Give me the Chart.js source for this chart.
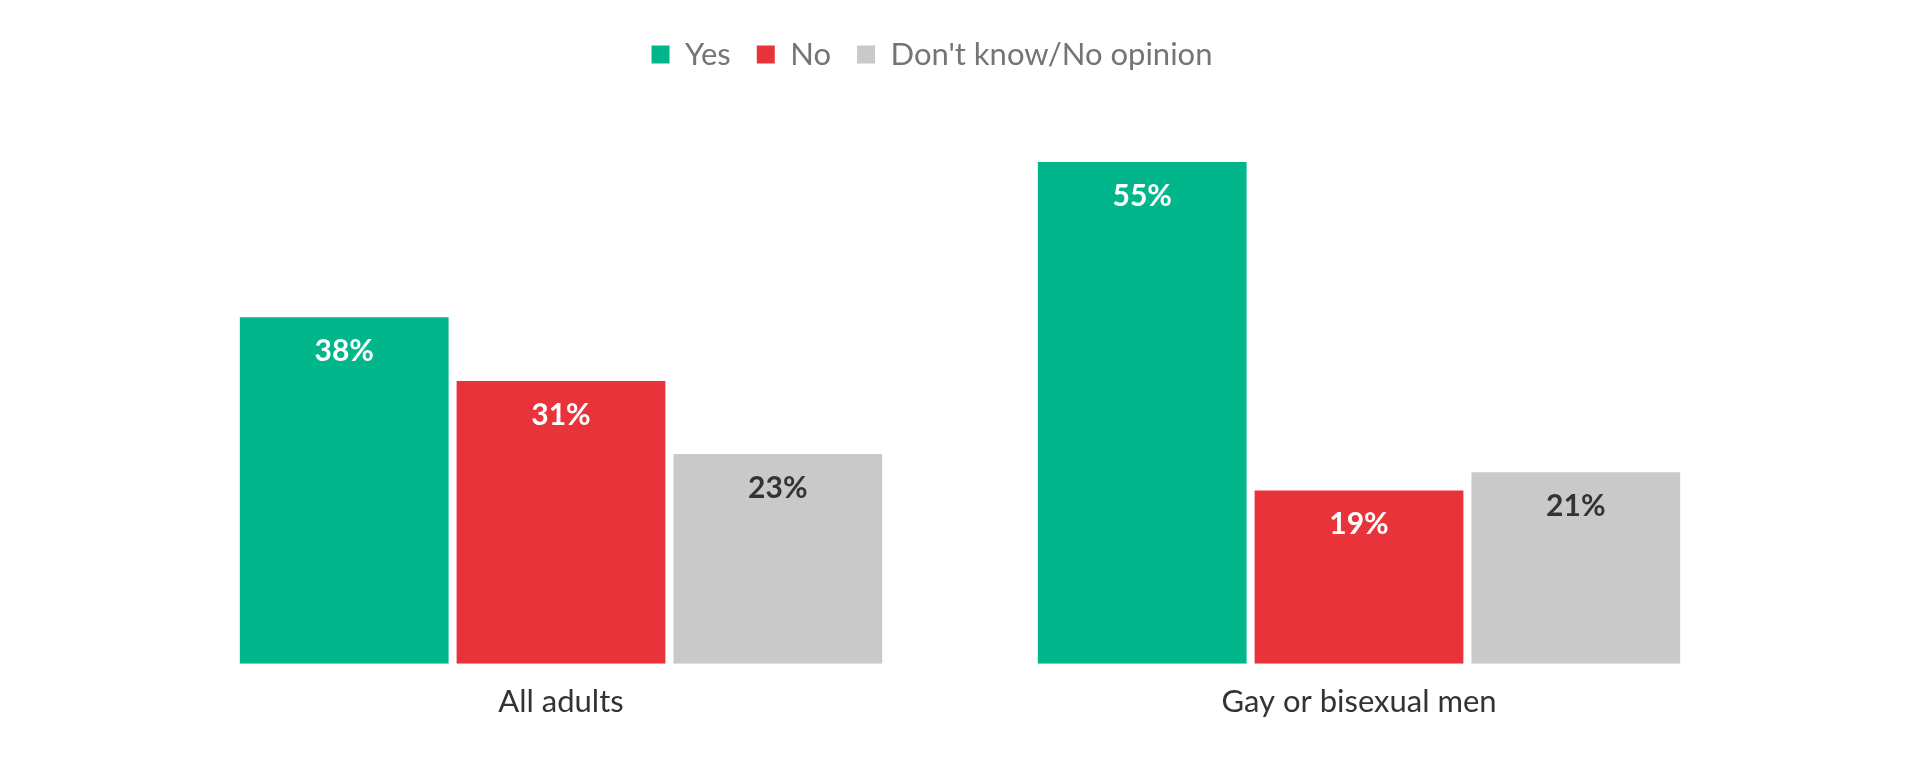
<!DOCTYPE html>
<html lang="en">
<head>
    <meta charset="UTF-8">
    <title>Yes / No / Don't know</title>
    <script src="https://cdn.jsdelivr.net/npm/chart.js"></script>
    <style>
        body {
            margin: 0;
            padding: 0;
            background-color: #fff;
        }

        .wrap {
            width: 1920px;
            height: 768px;
        }
    </style>
</head>
<body>
    <div class="wrap">
        <canvas id="chart" width="1920" height="768"></canvas>
    </div>

    <script>
        const categories = ['All adults', 'Gay or bisexual men'];
        const seriesNames = ['Yes', 'No', "Don't know/No opinion"];
        const yesValues = [38, 55];
        const noValues = [31, 19];
        const dontKnowValues = [23, 21];

        const colors = ['#00b68a', '#e9333a', '#c9c9c9'];
        const labelColors = ['#ffffff', '#ffffff', '#333333'];

        // draws the % value inside the top of each bar
        const valueLabels = {
            id: 'valueLabels',
            afterDatasetsDraw(chart) {
                const ctx = chart.ctx;
                ctx.save();
                ctx.font = 'bold 30px Lato';
                ctx.textAlign = 'center';
                ctx.textBaseline = 'middle';
                chart.data.datasets.forEach((ds, i) => {
                    const meta = chart.getDatasetMeta(i);
                    meta.data.forEach((bar, j) => {
                        ctx.fillStyle = labelColors[i];
                        ctx.fillText(ds.data[j] + '%', bar.x, bar.y + 34);
                    });
                });
                ctx.restore();
            }
        };

        // the legend in the original sits a bit left of centre
        const legendShift = {
            id: 'legendShift',
            afterLayout(chart) {
                chart.legend.left -= 28;
                chart.legend.right -= 28;
            }
        };

        const ctx = document.getElementById('chart').getContext('2d');
        new Chart(ctx, {
            type: 'bar',
            data: {
                labels: categories,
                datasets: [
                    { label: seriesNames[0], data: yesValues, backgroundColor: colors[0] },
                    { label: seriesNames[1], data: noValues, backgroundColor: colors[1] },
                    { label: seriesNames[2], data: dontKnowValues, backgroundColor: colors[2] }
                ]
            },
            options: {
                responsive: false,
                animation: false,
                devicePixelRatio: 1,
                categoryPercentage: 0.815,
                barPercentage: 0.963,
                layout: {
                    padding: { left: 162, right: 162, top: 13, bottom: 27 }
                },
                scales: {
                    x: {
                        grid: { display: false, drawTicks: false },
                        border: { display: false },
                        ticks: {
                            color: '#333333',
                            font: { family: 'Lato', size: 31 },
                            padding: 20
                        }
                    },
                    y: {
                        display: false,
                        min: 0,
                        max: 64
                    }
                },
                plugins: {
                    legend: {
                        display: true,
                        position: 'top',
                        labels: {
                            boxWidth: 18,
                            boxHeight: 18,
                            padding: 26,
                            color: '#757575',
                            font: { family: 'Lato', size: 31 }
                        }
                    },
                    tooltip: { enabled: false }
                }
            },
            plugins: [valueLabels, legendShift]
        });
    </script>
</body>
</html>
